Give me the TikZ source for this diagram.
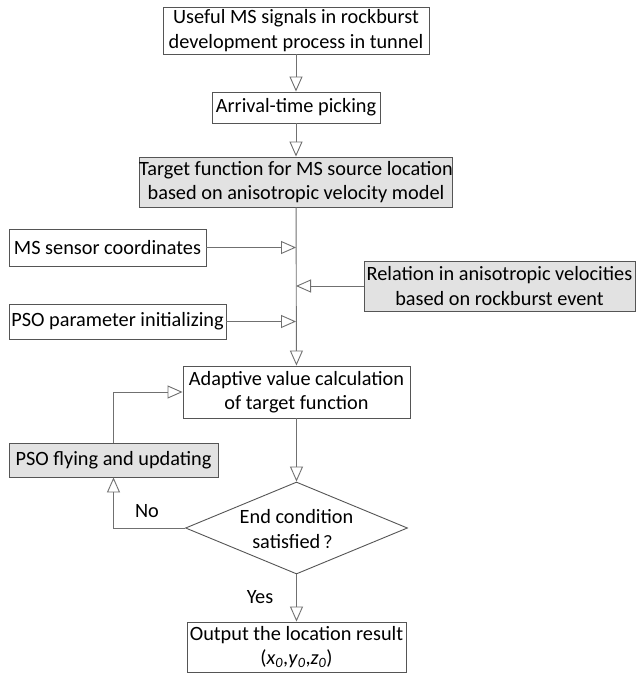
\documentclass[tikz,border=0pt]{standalone}
\usepackage{fontspec}
\setmainfont{Carlito}
\newfontfamily\cjk{Noto Sans CJK SC}
\usetikzlibrary{arrows.meta,shapes.geometric}
\definecolor{boxline}{HTML}{555555}
\definecolor{conline}{HTML}{707070}
\definecolor{shade}{HTML}{E2E2E2}
\tikzset{
  base/.style={draw=boxline, line width=0.9pt, align=center, inner sep=0pt,
    font=\fontsize{20.3}{24.5}\selectfont},
  plainbox/.style={base, fill=white},
  shadebox/.style={base, fill=shade},
  conn/.style={draw=conline, line width=0.9pt,
    -{Triangle[open, length=15pt, width=13pt]}},
  lbl/.style={font=\fontsize{20.3}{24.5}\selectfont, inner sep=0pt}
}
\begin{document}
\begin{tikzpicture}[x=1pt,y=-1pt]
\useasboundingbox[fill=white] (0,0) rectangle (640,677);

\node[plainbox, minimum width=266pt, minimum height=47pt] (b1) at (296,30.5)
  {Useful MS signals in rockburst\\development process in tunnel};
\node[plainbox, minimum width=168pt, minimum height=31pt] (b2) at (296,107.5)
  {Arrival-time picking};
\node[shadebox, minimum width=306pt, minimum height=50pt] (b3) at (296,182)
  {Target function for MS source location\\based on anisotropic velocity model};
\node[plainbox, minimum width=197pt, minimum height=37pt] (sens) at (107.5,247.5)
  {MS sensor coordinates};
\node[shadebox, minimum width=271pt, minimum height=50pt] (rel) at (499.5,286)
  {Relation in anisotropic velocities\\based on rockburst event};
\node[plainbox, minimum width=217pt, minimum height=35pt] (psop) at (117.5,321.5)
  {PSO parameter initializing};
\node[plainbox, minimum width=227pt, minimum height=52pt] (adapt) at (296.5,392)
  {Adaptive value calculation\\of target function};
\node[shadebox, minimum width=209pt, minimum height=34pt] (fly) at (113.5,460)
  {PSO flying and updating};
\node[draw=boxline, line width=0.9pt, diamond, fill=white, inner sep=0pt,
  shape aspect=2.4, minimum width=222pt, minimum height=92pt] (dec) at (296.5,528) {};
\node[lbl, align=center] (dect) at (296.5,529)
  {End condition\\satisfied\,{\cjk\fontsize{17}{24}\selectfont ？}};
\node[plainbox, minimum width=219pt, minimum height=50pt] (out) at (296.5,647)
  {Output the location result\\(\textit{x}\textsubscript{\textit{0}},\textit{y}\textsubscript{\textit{0}},\textit{z}\textsubscript{\textit{0}})};

\node[lbl] (no) at (147,511) {No};
\node[lbl] (yes) at (260,597) {Yes};

\draw[conn] (b1) -- (b2);
\draw[conn] (b2) -- (b3);
\draw[conn] (b3) -- (adapt);
\draw[conn] (sens.east) -- (sens.east -| b3.south);
\draw[conn] (rel.west) -- (rel.west -| b3.south);
\draw[conn] (psop.east) -- (psop.east -| b3.south);
\draw[conn] (adapt) -- (dec);
\draw[conn] (dec) -- (out);
\draw[conn] (dec.west) -| (fly.south);
\draw[conn] (fly.north) |- (adapt.west);
\end{tikzpicture}
\end{document}
